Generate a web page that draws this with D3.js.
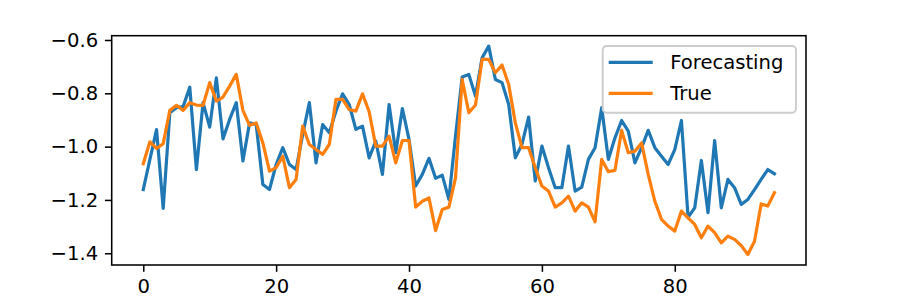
<!DOCTYPE html>
<html>
<head>
<meta charset="utf-8">
<script src="https://cdn.jsdelivr.net/npm/d3@7"></script>
<style>
  body { margin: 0; background: #fff; }
  text { font-family: 'DejaVu Sans', sans-serif; }
</style>
</head>
<body>
<div id="chart"></div>
<script>
// values, index 0..95
let forecasting = [
  -1.161, -1.048, -0.936, -1.232, -0.873, -0.854, -0.850, -0.777, -1.086, -0.835, -0.927, -0.742, -0.971, -0.898, -0.835, -1.054,
  -0.911, -0.917, -1.142, -1.161, -1.067, -1.004, -1.067, -1.086, -0.954, -0.835, -1.061, -0.917, -0.948, -0.867, -0.802, -0.842,
  -0.935, -0.923, -1.042, -0.979, -1.104, -0.842, -1.023, -0.857, -0.973, -1.148, -1.104, -1.044, -1.119, -1.107, -1.198, -0.960,
  -0.739, -0.729, -0.810, -0.667, -0.623, -0.748, -0.760, -0.842, -1.042, -0.992, -0.889, -1.129, -0.998, -1.079, -1.154, -1.154,
  -0.998, -1.167, -1.152, -1.048, -1.004, -0.854, -1.048, -0.967, -0.902, -0.942, -1.061, -1.004, -0.939, -1.004, -1.036, -1.067,
  -1.011, -0.902, -1.265, -1.230, -1.052, -1.248, -0.977, -1.230, -1.123, -1.154, -1.217, -1.198, -1.161, -1.123, -1.086, -1.102
]

let trueValues = [
  -1.064, -0.982, -1.007, -0.989, -0.864, -0.845, -0.864, -0.835, -0.844, -0.845, -0.760, -0.829, -0.814, -0.773, -0.729, -0.864,
  -0.920, -0.911, -0.986, -1.092, -1.079, -1.036, -1.154, -1.123, -0.923, -0.992, -1.011, -1.029, -0.992, -0.823, -0.823, -0.861,
  -0.867, -0.802, -0.869, -0.998, -0.998, -0.961, -1.061, -0.977, -0.977, -1.227, -1.205, -1.192, -1.315, -1.236, -1.227, -1.117,
  -0.748, -0.873, -0.844, -0.673, -0.673, -0.723, -0.694, -0.767, -0.911, -1.004, -1.004, -1.079, -1.148, -1.167, -1.227, -1.211,
  -1.186, -1.242, -1.211, -1.227, -1.282, -1.048, -1.094, -1.089, -0.939, -1.023, -1.017, -0.986, -1.104, -1.205, -1.273, -1.298,
  -1.317, -1.242, -1.267, -1.292, -1.342, -1.298, -1.323, -1.361, -1.336, -1.348, -1.371, -1.405, -1.355, -1.215, -1.223, -1.173
]

let seriesNames = ['Forecasting', 'True']
let xTicks = [0, 20, 40, 60, 80]
let yTicks = [-1.4, -1.2, -1.0, -0.8, -0.6]

let margin = { top: 35.7, left: 111.7, right: 91, bottom: 34 }
let width = 897 - margin.left - margin.right
let height = 299 - margin.top - margin.bottom

let fontSize = 19.6
let tickLen = 6.8
let tickPad = 6.8

let svg = d3
  .select('#chart')
  .append('svg')
  .attr('width', width + margin.left + margin.right)
  .attr('height', height + margin.top + margin.bottom)
  .append('g')
  .attr('transform', 'translate(' + margin.left + ',' + margin.top + ')')

// scales, with matplotlib's 5% padding
let n = forecasting.length
let xPad = (n - 1) * 0.05
let xScale = d3.scaleLinear().domain([-xPad, n - 1 + xPad]).range([0, width])

let allValues = forecasting.concat(trueValues)
let yMin = d3.min(allValues)
let yMax = d3.max(allValues)
let yPad = (yMax - yMin) * 0.05
let yScale = d3.scaleLinear().domain([yMin - yPad, yMax + yPad]).range([height, 0])

let colorScale = d3.scaleOrdinal().domain(seriesNames).range(['#1f77b4', '#ff7f0e'])

// axes
let fmt = d => d3.format('.1f')(d).replace('-', '\u2212')

let xAxis = svg
  .append('g')
  .attr('transform', `translate(0,${height})`)
  .call(d3.axisBottom(xScale).tickValues(xTicks).tickSize(tickLen).tickPadding(tickPad))

let yAxis = svg
  .append('g')
  .call(d3.axisLeft(yScale).tickValues(yTicks).tickFormat(fmt).tickSize(tickLen).tickPadding(tickPad))

;[xAxis, yAxis].forEach(ax => {
  ax.select('.domain').remove()
  ax.selectAll('line').attr('stroke', '#000').attr('stroke-width', 1.55)
  ax.selectAll('text')
    .attr('font-size', fontSize)
    .attr('font-family', 'DejaVu Sans')
    .attr('fill', '#000')
})

// lines
let line = d3
  .line()
  .x((d, i) => xScale(i))
  .y(d => yScale(d))

svg
  .selectAll('.series')
  .data([forecasting, trueValues])
  .enter()
  .append('path')
  .attr('class', 'series')
  .attr('d', line)
  .attr('fill', 'none')
  .attr('stroke', (d, i) => colorScale(seriesNames[i]))
  .attr('stroke-width', 3.2)
  .attr('stroke-linejoin', 'round')
  .attr('stroke-linecap', 'square')

// frame
svg
  .append('rect')
  .attr('width', width)
  .attr('height', height)
  .attr('fill', 'none')
  .attr('stroke', '#000')
  .attr('stroke-width', 1.55)

// legend
let legend = svg
  .append('g')
  .attr('transform', `translate(${602.7 - margin.left},${46 - margin.top})`)

legend
  .append('rect')
  .attr('width', 193.3)
  .attr('height', 66.7)
  .attr('rx', 3.9)
  .attr('fill', '#fff')
  .attr('fill-opacity', 0.8)
  .attr('stroke', '#cccccc')
  .attr('stroke-width', 1.9)

legend
  .selectAll('.legend-entry')
  .data(seriesNames)
  .enter()
  .append('g')
  .attr('class', 'legend-entry')
  .attr('transform', (d, i) => `translate(0,${16.3 + i * 31})`)
  .each(function(d) {
    let g = d3.select(this)

    g.append('line')
      .attr('x1', 6)
      .attr('x2', 50)
      .attr('stroke', colorScale(d))
      .attr('stroke-width', 3.2)

    g.append('text')
      .text(d)
      .attr('x', 67.5)
      .attr('dy', '0.36em')
      .attr('font-size', fontSize)
      .attr('fill', '#000')
  })
</script>
</body>
</html>
